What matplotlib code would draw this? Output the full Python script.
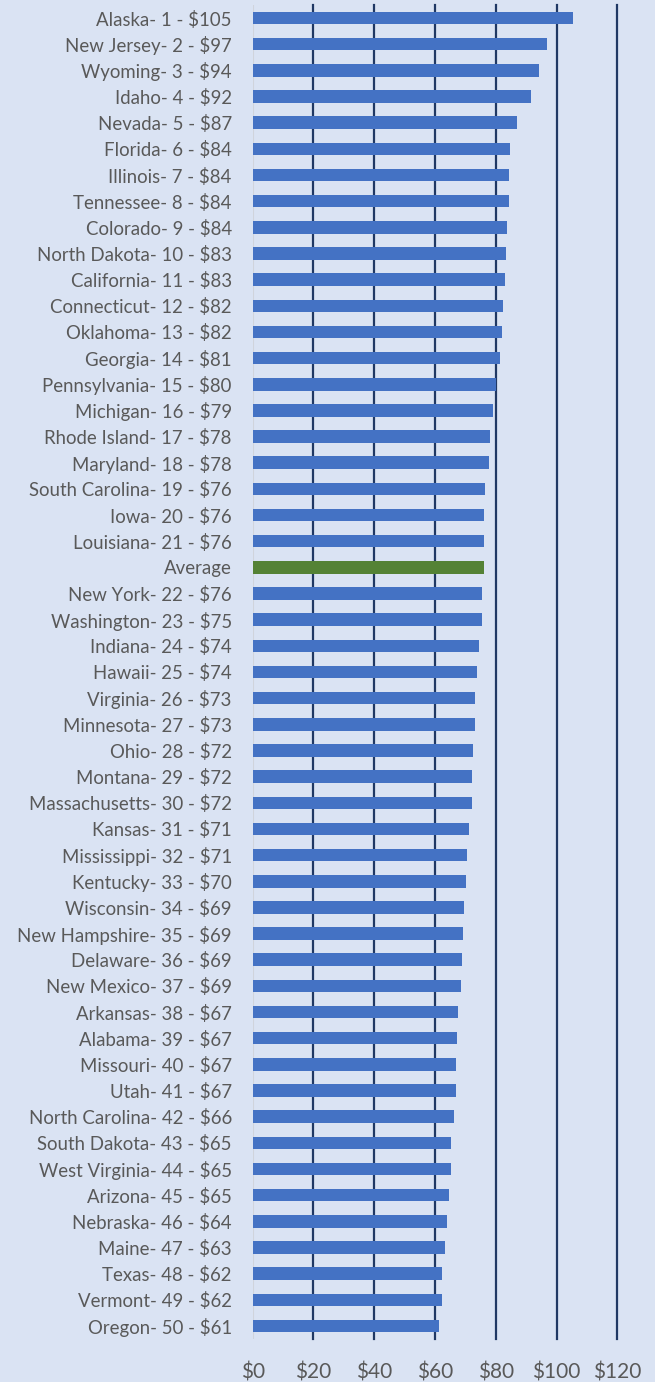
import matplotlib
matplotlib.use('Agg')
import matplotlib.pyplot as plt

# state - rank - rate labels, top to bottom as shown
labels = ['Alaska- 1 - $105', 'New Jersey- 2 - $97', 'Wyoming- 3 - $94', 'Idaho- 4 - $92',
          'Nevada- 5 - $87', 'Florida- 6 - $84', 'Illinois- 7 - $84', 'Tennessee- 8 - $84',
          'Colorado- 9 - $84', 'North Dakota- 10 - $83', 'California- 11 - $83',
          'Connecticut- 12 - $82', 'Oklahoma- 13 - $82', 'Georgia- 14 - $81',
          'Pennsylvania- 15 - $80', 'Michigan- 16 - $79', 'Rhode Island- 17 - $78',
          'Maryland- 18 - $78', 'South Carolina- 19 - $76', 'Iowa- 20 - $76',
          'Louisiana- 21 - $76', 'Average', 'New York- 22 - $76', 'Washington- 23 - $75',
          'Indiana- 24 - $74', 'Hawaii- 25 - $74', 'Virginia- 26 - $73', 'Minnesota- 27 - $73',
          'Ohio- 28 - $72', 'Montana- 29 - $72', 'Massachusetts- 30 - $72', 'Kansas- 31 - $71',
          'Mississippi- 32 - $71', 'Kentucky- 33 - $70', 'Wisconsin- 34 - $69',
          'New Hampshire- 35 - $69', 'Delaware- 36 - $69', 'New Mexico- 37 - $69',
          'Arkansas- 38 - $67', 'Alabama- 39 - $67', 'Missouri- 40 - $67', 'Utah- 41 - $67',
          'North Carolina- 42 - $66', 'South Dakota- 43 - $65', 'West Virginia- 44 - $65',
          'Arizona- 45 - $65', 'Nebraska- 46 - $64', 'Maine- 47 - $63', 'Texas- 48 - $62',
          'Vermont- 49 - $62', 'Oregon- 50 - $61']

values = [105.3, 96.8, 94.2, 91.6, 87.0, 84.5, 84.4, 84.2, 83.8, 83.2, 82.9,
          82.4, 82.0, 81.4, 80.0, 79.2, 78.2, 77.8, 76.3, 76.2, 76.0, 76.1,
          75.6, 75.3, 74.4, 73.9, 73.3, 73.0, 72.4, 72.2, 72.0, 71.3, 70.6,
          70.2, 69.4, 69.2, 69.0, 68.6, 67.4, 67.2, 67.0, 66.9, 66.2, 65.4,
          65.2, 64.6, 64.0, 63.2, 62.4, 62.2, 61.4]

xticks = [0, 20, 40, 60, 80, 100, 120]
xtick_labels = ['$0', '$20', '$40', '$60', '$80', '$100', '$120']

bg = '#DAE3F3'
blue = '#4472C4'
green = '#548235'
txt = '#595959'

plt.rcParams['font.family'] = ['Lato', 'DejaVu Sans']

fig = plt.figure(figsize=(6.55, 13.82), dpi=100, facecolor=bg)
ax = fig.add_axes([0.3858, 0.0311, 0.5568, 0.9653])
ax.set_facecolor(bg)

colors = [green if l == 'Average' else blue for l in labels]
ypos = range(len(labels))
ax.barh(ypos, values, height=0.48, color=colors, zorder=3)

ax.set_ylim(len(labels) - 0.5, -0.5)
ax.set_xlim(0, 120)
ax.set_yticks(list(ypos))
ax.set_yticklabels(labels)
ax.set_xticks(xticks)
ax.set_xticklabels(xtick_labels)

ax.set_axisbelow(True)
ax.grid(axis='x', color='#203864', linewidth=1.6)
gridlines = ax.get_xgridlines()
for gl in gridlines:
    gl.set_clip_on(False)
# the zero line is a light axis line, not a dark gridline
gridlines[0].set_visible(False)
ax.axvline(0, color='#D0D4DC', linewidth=1.5, zorder=2)
for s in ax.spines.values():
    s.set_visible(False)

ax.tick_params(axis='y', length=0, pad=15, labelsize=13.4, labelcolor=txt)
ax.tick_params(axis='x', length=0, pad=17, labelsize=15, labelcolor=txt)

fig.savefig('out.png', dpi=100, facecolor=bg)
